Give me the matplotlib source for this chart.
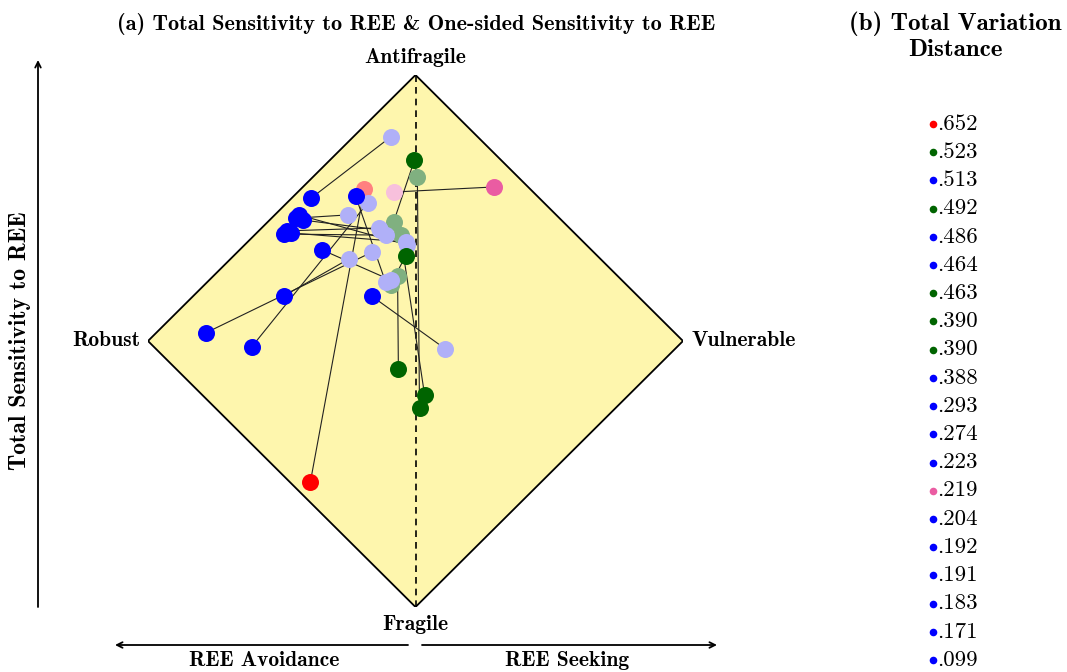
import matplotlib
matplotlib.use('Agg')
import matplotlib.pyplot as plt
from matplotlib.patches import Polygon

plt.rcParams['font.family'] = ['cmr10', 'DejaVu Serif']
plt.rcParams['axes.unicode_minus'] = False

# legend values (total variation distance), sorted as in the reference
tvd = ['.652', '.523', '.513', '.492', '.486', '.464', '.463', '.390', '.390', '.388',
       '.293', '.274', '.223', '.219', '.204', '.192', '.191', '.183', '.171', '.099']
group = ['red', 'green', 'blue', 'green', 'blue', 'blue', 'green', 'green', 'green', 'blue',
         'blue', 'blue', 'blue', 'pink', 'blue', 'blue', 'blue', 'blue', 'blue', 'blue']

# total sensitivity position (dark marker)
tot_x = [-0.393, -0.004, -0.389, -0.037, -0.224, -0.437, -0.064, 0.034, 0.015, -0.422,
         -0.493, -0.464, -0.482, 0.292, -0.445, -0.348, -0.493, -0.164, -0.785, -0.613]
tot_y = [-0.530, 0.680, 0.538, 0.320, 0.545, 0.474, -0.105, -0.203, -0.252, 0.455,
         0.402, 0.406, 0.414, 0.579, 0.462, 0.342, 0.169, 0.169, 0.030, -0.023]
# one-sided sensitivity position (light marker)
one_x = [-0.191, -0.082, -0.093, -0.093, -0.112, -0.030, -0.067, -0.056, 0.007, -0.131,
         -0.112, -0.037, -0.138, -0.082, -0.254, -0.093, -0.250, 0.112, -0.161, -0.179]
one_y = [0.571, 0.447, 0.767, 0.211, 0.222, 0.361, 0.244, 0.398, 0.617, 0.417,
         0.398, 0.372, 0.425, 0.560, 0.474, 0.229, 0.308, -0.030, 0.335, 0.519]

dark = {'red': '#ff0000', 'green': '#006400', 'blue': '#0000ff', 'pink': '#ea5ca2'}
light = {'red': '#ff8080', 'green': '#80b080', 'blue': '#b0b0f8', 'pink': '#f7c0dc'}

W, H = 1067, 672
fig = plt.figure(figsize=(W / 100, H / 100), dpi=100)

# main diamond panel
ax = fig.add_axes([148 / W, (H - 607) / H, 535 / W, 532 / H])
ax.set_xlim(-1, 1)
ax.set_ylim(-1, 1)
ax.axis('off')
ax.add_patch(Polygon([(-1, 0), (0, 1), (1, 0), (0, -1)], closed=True,
                     facecolor='#fef6ad', edgecolor='black', lw=1.3, zorder=0))
ax.plot([0, 0], [-1, 1], color='black', ls=(0, (4, 3)), lw=1.2, zorder=1)

for i in range(len(tvd)):
    ax.plot([tot_x[i], one_x[i]], [tot_y[i], one_y[i]], color='#222222', lw=0.8, zorder=2)
for i in range(len(tvd)):
    ax.scatter(one_x[i], one_y[i], s=150, color=light[group[i]], lw=0, zorder=3)
for i in range(len(tvd)):
    ax.scatter(tot_x[i], tot_y[i], s=150, color=dark[group[i]], lw=0, zorder=4)

bold = ['cmb10', 'DejaVu Serif']
fs = 15.5
ax.text(0, 1.03, 'Antifragile', ha='center', va='bottom', fontsize=fs, family=bold)
ax.text(0, -1.03, 'Fragile', ha='center', va='top', fontsize=fs, family=bold)
ax.text(-1.03, 0, 'Robust', ha='right', va='center', fontsize=fs, family=bold)
ax.text(1.03, 0, 'Vulnerable', ha='left', va='center', fontsize=fs, family=bold)

fig.text(416 / W, 1 - 24 / H, '(a) Total Sensitivity to REE & One-sided Sensitivity to REE',
         ha='center', va='center', fontsize=16, family=bold)
fig.text(955 / W, 1 - 36 / H, '(b) Total Variation\nDistance', ha='center', va='center',
         fontsize=18, family=bold, linespacing=1.2)

fig.text(20 / W, 1 - 341 / H, 'Total Sensitivity to REE', rotation=90, ha='center',
         va='center', fontsize=17, family=bold)
fig.text(264 / W, 1 - 660 / H, 'REE Avoidance', ha='center', va='center', fontsize=fs, family=bold)
fig.text(567 / W, 1 - 660 / H, 'REE Seeking', ha='center', va='center', fontsize=fs, family=bold)

arrow = dict(arrowstyle='->', lw=1.3, color='black', shrinkA=0, shrinkB=0)
for start, end in [((38, H - 607), (38, H - 60)),
                   ((408, H - 645), (115, H - 645)),
                   ((422, H - 645), (717, H - 645))]:
    ax.annotate('', xy=end, xytext=start, xycoords='figure pixels',
                textcoords='figure pixels', arrowprops=arrow, annotation_clip=False)

# legend panel
lg = fig.add_axes([925 / W, (H - 660) / H, 100 / W, 536 / H])
lg.set_xlim(0, 1)
lg.set_ylim(len(tvd) - 1, 0)
lg.axis('off')
for i, v in enumerate(tvd):
    lg.scatter(0.08, i, s=30, color=dark[group[i]], lw=0, clip_on=False)
    lg.text(0.12, i, v, ha='left', va='center', fontsize=16.5)

fig.savefig('out.png', dpi=100)
